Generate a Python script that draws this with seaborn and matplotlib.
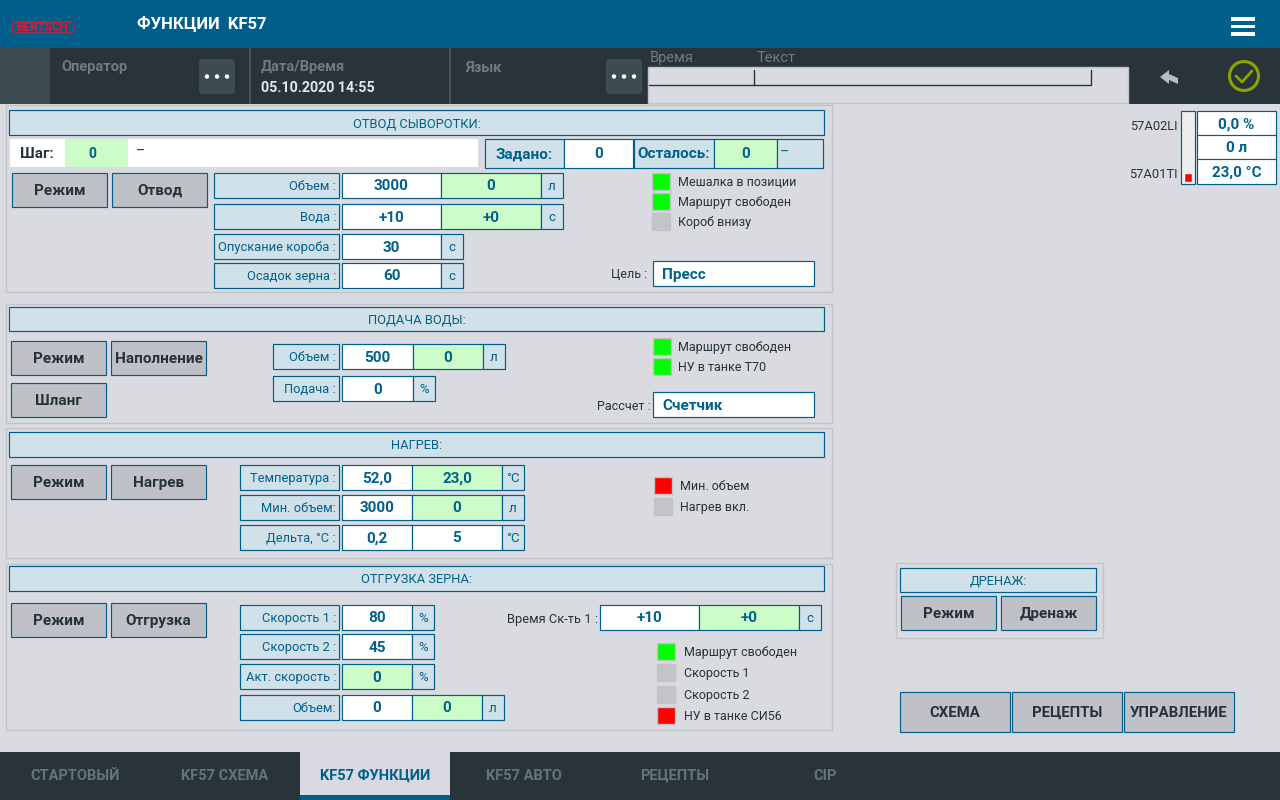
import matplotlib
matplotlib.use('Agg')
import matplotlib.pyplot as plt
from matplotlib.patches import Rectangle, FancyBboxPatch, Circle, Polygon
import seaborn as sns

# screen texts and values
title_text = 'ФУНКЦИИ  KF57'
tab_labels = ['СТАРТОВЫЙ', 'KF57 СХЕМА', 'KF57 ФУНКЦИИ', 'KF57 АВТО', 'РЕЦЕПТЫ', 'CIP']
section_titles = ['ОТВОД СЫВОРОТКИ:', 'ПОДАЧА ВОДЫ:', 'НАГРЕВ:', 'ОТГРУЗКА ЗЕРНА:', 'ДРЕНАЖ:']

otvod_labels = ['Объем :', 'Вода :', 'Опускание короба :', 'Осадок зерна :']
otvod_set = ['3000', '+10', '30', '60']
otvod_act = ['0', '+0', None, None]
otvod_units = ['л', 'с', 'с', 'с']
otvod_lamps = ['Мешалка в позиции', 'Маршрут свободен', 'Короб внизу']
otvod_lamp_states = ['on', 'on', 'off']

voda_labels = ['Объем :', 'Подача :']
voda_set = ['500', '0']
voda_act = ['0', None]
voda_units = ['л', '%']
voda_lamps = ['Маршрут свободен', 'НУ в танке Т70']
voda_lamp_states = ['on', 'on']

nagrev_labels = ['Температура :', 'Мин. объем:', 'Дельта, °C :']
nagrev_set = ['52,0', '3000', '0,2']
nagrev_act = ['23,0', '0', '5']
nagrev_act_green = [True, True, False]
nagrev_units = ['°C', 'л', '°C']
nagrev_lamps = ['Мин. объем', 'Нагрев вкл.']
nagrev_lamp_states = ['alarm', 'off']

zerno_labels = ['Скорость 1 :', 'Скорость 2 :', 'Акт. скорость :', 'Объем:']
zerno_set = ['80', '45', None, '0']
zerno_act = [None, None, '0', '0']
zerno_units = ['%', '%', '%', 'л']
zerno_lamps = ['Маршрут свободен', 'Скорость 1', 'Скорость 2', 'НУ в танке СИ56']
zerno_lamp_states = ['on', 'off', 'off', 'alarm']

tank_tags = ['57A02LI', '57A01TI']
tank_values = ['0,0 %', '0 л', '23,0 °C']
tank_level = [13]
nav_buttons = ['СХЕМА', 'РЕЦЕПТЫ', 'УПРАВЛЕНИЕ']

# colours
BLUE = '#005f8a'
DARK = '#29333a'
BG = '#dadbe0'
LIGHT = '#d0e1e9'
GREEN = '#ccfdc9'
BTN = '#bfc1c6'
TXT = '#00608c'
LAMP = {'on': '#00ff00', 'off': '#c4c3c7', 'alarm': '#ff0000'}

sns.set_theme(style='white')
plt.rcParams['font.family'] = ['Roboto', 'DejaVu Sans']

fig = plt.figure(figsize=(12.8, 8), dpi=100, facecolor=BG)
ax = fig.add_axes([0, 0, 1, 1])
ax.set_xlim(0, 1280)
ax.set_ylim(800, 0)
ax.axis('off')


def box(x0, y0, x1, y1, fc, ec=BLUE, lw=0.85, z=2):
    ax.add_patch(Rectangle((x0, y0), x1 - x0, y1 - y0, facecolor=fc, edgecolor=ec, linewidth=lw, zorder=z))


def txt(x, y, s, size=9.3, color=TXT, ha='center', weight='normal'):
    ax.text(x, y + 1, s, fontsize=size, color=color, ha=ha, va='center', weight=weight, zorder=5)


def cell(x0, y0, x1, y1, s, fc='white', size=11):
    box(x0, y0, x1, y1, fc)
    txt((x0 + x1) / 2, (y0 + y1) / 2, s, size=size, weight='bold')


def button(x0, y0, x1, y1, s, size=11):
    box(x0, y0, x1, y1, BTN)
    txt((x0 + x1) / 2, (y0 + y1) / 2, s, size=size, color='#26323a', weight='bold')


def panel(x0, y0, x1, y1):
    box(x0, y0, x1, y1, BG, ec='#c2c3c6', lw=1, z=1)


def section(x0, y0, x1, y1, s):
    box(x0, y0, x1, y1, LIGHT)
    txt((x0 + x1) / 2, (y0 + y1) / 2, s, size=9.3)


def rows(labels, setp, act, units, tops, h, lx, sx, mx, ux, green=None):
    # one line per parameter: label, set value, optional actual value, unit
    for i, lab in enumerate(labels):
        y0, y1 = tops[i], tops[i] + h
        box(lx, y0, 339, y1, LIGHT)
        txt(336, (y0 + y1) / 2, lab, ha='right')
        x = sx
        if setp[i] is not None:
            cell(x, y0, mx, y1, setp[i])
            x = mx
            if act[i] is not None:
                g = GREEN if green is None or green[i] else 'white'
                cell(x, y0, ux, y1, act[i], fc=g)
                x = ux
        else:
            cell(x, y0, mx, y1, act[i], fc=GREEN)
            x = mx
        box(x, y0, x + 22, y1, LIGHT)
        txt(x + 11, (y0 + y1) / 2, units[i], size=9.5)


def lamps(labels, states, x, tops, h, tx):
    for lab, st, t in zip(labels, states, tops):
        box(x, t, x + 18, t + h, LAMP[st], ec='#c2c3c6', lw=1)
        txt(tx, t + h / 2, lab, size=9, color='#26323a', ha='left')


# top bars
box(0, 0, 1280, 48, BLUE, ec='none')
box(0, 48, 1280, 104, DARK, ec='none')
box(0, 48, 50, 104, '#3d4a52', ec='none')
ax.add_patch(FancyBboxPatch((12, 22), 62, 11, boxstyle='round,pad=0,rounding_size=5', fc='none', ec='#f0102d', lw=0.8, zorder=4))
txt(42, 26.5, 'BERTSCH', size=8.5, color='#f0102d', weight='bold')
txt(137, 23, title_text, size=12, color='white', ha='left', weight='bold')
for yb in [17, 24.5, 32]:
    box(1231, yb, 1255, yb + 3.5, 'white', ec='none')

for xs in [249.5, 450]:
    box(xs - 1, 48, xs + 1, 104, '#4a565d', ec='none')
for xb in [199, 606]:
    ax.add_patch(FancyBboxPatch((xb, 59), 36, 35, boxstyle='round,pad=0,rounding_size=4', fc='#3f4b52', ec='none', zorder=3))
    for dx in [8, 18, 28]:
        ax.add_patch(Circle((xb + dx, 76.5), 2.2, fc='white', ec='none', zorder=4))
txt(61, 66, 'Оператор', size=10.5, color='#707a80', ha='left', weight='bold')
txt(261, 66, 'Дата/Время', size=10.5, color='#707a80', ha='left', weight='bold')
txt(261, 87, '05.10.2020 14:55', size=10.3, color='#e4e7e8', ha='left', weight='bold')
txt(465, 67, 'Язык', size=10.5, color='#707a80', ha='left', weight='bold')
txt(650, 57, 'Время', size=10.5, color='#707a80', ha='left')
txt(757, 57, 'Текст', size=10.5, color='#707a80', ha='left')
box(648, 67, 1128, 102.5, BG, ec='#c2c3c6', lw=1)
ax.plot([649, 1091, 1091], [85, 85, 70], color=DARK, lw=1, zorder=4)
ax.plot([754, 754], [70, 85], color=DARK, lw=1, zorder=4)
ax.add_patch(Polygon([(1160, 77), (1169, 70), (1169, 74), (1178, 78), (1178, 84), (1169, 80), (1169, 84)], fc='#b9bcbf', ec='none', zorder=4))
ax.add_patch(Circle((1244, 76), 14.5, fc='none', ec='#8da300', lw=2.2, zorder=4))
ax.plot([1236, 1242, 1252], [76, 82, 71], color='#8da300', lw=2, zorder=5)

# section 1
panel(6, 105, 832, 292)
section(9, 110, 824, 135, section_titles[0])
box(10, 139, 478, 167, 'white', ec='none')
txt(37, 153, 'Шаг:', size=11, color='#26323a', weight='bold')
box(65, 139, 128, 167, GREEN, ec='none')
txt(92, 153, '0', size=10, weight='bold')
txt(136, 151, '–', size=10, color='#26323a', ha='left')
cell(485, 139, 564, 168, 'Задано:', fc=LIGHT)
cell(564, 139, 633, 168, '0')
cell(634, 139, 714, 168, 'Осталось:', fc=LIGHT)
cell(714, 139, 777, 168, '0', fc=GREEN)
box(777, 139, 823, 168, LIGHT)
txt(780, 152, '–', size=10, ha='left')
button(12, 173, 107, 207, 'Режим')
button(112, 173, 207, 207, 'Отвод')
rows(otvod_labels, otvod_set, otvod_act, otvod_units, [173, 204, 234, 263], 25, 214, 342, 441, 541)
lamps(otvod_lamps, otvod_lamp_states, 652, [173, 193, 213], 17, 678)
txt(647, 274, 'Цель :', size=9, color='#26323a', ha='right')
box(653, 261, 814, 286, 'white')
txt(662, 274, 'Пресс', size=11, ha='left', weight='bold')

# section 2
panel(6, 304, 832, 423)
section(9, 307, 824, 331, section_titles[1])
button(11, 341, 106, 375, 'Режим')
button(111, 341, 206, 375, 'Наполнение')
button(11, 383, 106, 417, 'Шланг')
rows(voda_labels, voda_set, voda_act, voda_units, [344, 376], 25, 273, 342, 413, 483)
lamps(voda_lamps, voda_lamp_states, 653, [338, 358], 17, 678)
txt(651, 405, 'Рассчет :', size=9, color='#26323a', ha='right')
box(653, 392, 814, 417, 'white')
txt(662, 405, 'Счетчик', size=11, ha='left', weight='bold')

# section 3
panel(6, 428, 832, 558)
section(9, 432, 824, 457, section_titles[2])
button(11, 465, 106, 499, 'Режим')
button(111, 465, 206, 499, 'Нагрев')
rows(nagrev_labels, nagrev_set, nagrev_act, nagrev_units, [465, 495, 525], 25, 240, 342, 412, 502, green=nagrev_act_green)
lamps(nagrev_lamps, nagrev_lamp_states, 654, [477, 498], 17, 680)

# section 4
panel(6, 564, 832, 730)
section(9, 566, 824, 591, section_titles[3])
button(11, 603, 106, 637, 'Режим')
button(111, 603, 206, 637, 'Отгрузка')
rows(zerno_labels, zerno_set, zerno_act, zerno_units, [605, 634, 664, 695], 25, 240, 342, 412, 482)
txt(598, 618, 'Время Ск-ть 1 :', size=9.3, color='#26323a', ha='right')
cell(600, 605, 699, 630, '+10')
cell(699, 605, 799, 630, '+0', fc=GREEN)
box(799, 605, 821, 630, LIGHT)
txt(810, 618, 'с', size=9.5)
lamps(zerno_lamps, zerno_lamp_states, 657, [643, 664, 686, 707], 17, 684)

# drain
panel(896, 563, 1103, 638)
section(900, 568, 1096, 592, section_titles[4])
button(901, 596, 996, 630, 'Режим')
button(1001, 596, 1096, 630, 'Дренаж')

# tank gauge
txt(1178, 126, tank_tags[0], size=9.3, color='#26323a', ha='right')
txt(1178, 174, tank_tags[1], size=9.3, color='#26323a', ha='right')
box(1181, 111, 1195, 184, '#eceef0')
for val, t in zip(tank_values, [111, 135, 159]):
    cell(1197, t, 1276, t + 24.5, val)
gax = fig.add_axes([1183.5 / 1280, 1 - 182 / 800, 8.5 / 1280, 70 / 800])
sns.barplot(x=['level'], y=tank_level, color='#ff0000', saturation=1, width=1, ax=gax)
gax.set_xlim(-0.5, 0.5)
gax.set_ylim(0, 100)
gax.axis('off')

# navigation
for s, x0 in zip(nav_buttons, [900, 1012, 1124]):
    button(x0, 692, x0 + 110, 732, s, size=10.7)

# bottom tabs
box(0, 752, 1280, 800, DARK, ec='none')
box(300, 752, 450, 800, '#d8d9e2', ec='none')
box(300, 795, 450, 800, BLUE, ec='none')
for i, (s, cx) in enumerate(zip(tab_labels, [75, 225, 375, 524, 675, 825])):
    txt(cx, 775, s, size=10.5, color=TXT if i == 2 else '#66747b', weight='bold')

fig.savefig('out.png', dpi=100, facecolor=BG)
